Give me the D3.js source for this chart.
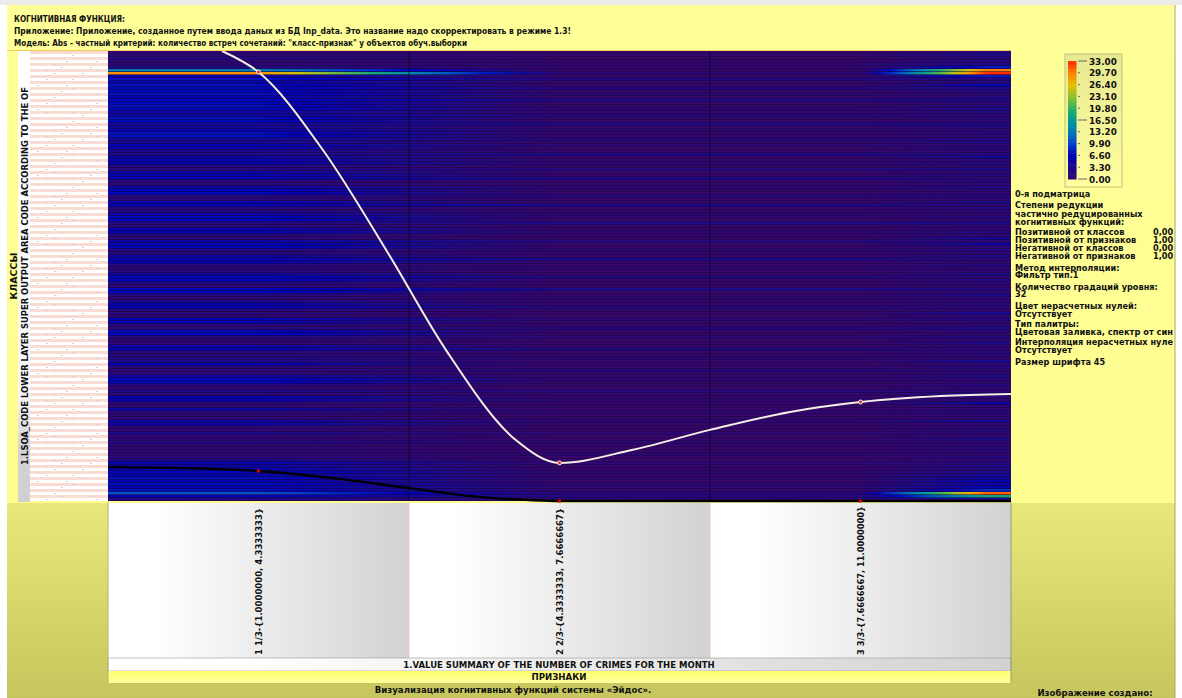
<!DOCTYPE html>
<html><head><meta charset="utf-8">
<script src="https://cdn.jsdelivr.net/npm/d3@7"></script>
<style>html,body{margin:0;padding:0;background:#fff}svg{display:block}text{font-family:"DejaVu Sans",sans-serif;font-weight:bold;fill:#111}</style>
</head><body><div id="c"></div>
<script>
const headerLines = ["КОГНИТИВНАЯ ФУНКЦИЯ:",
 "Приложение: Приложение, созданное путем ввода даных из БД Inp_data. Это название надо скорректировать в режиме 1.3!",
 "Модель: Abs - частный критерий: количество встреч сочетаний: \"класс-признак\" у объектов обуч.выборки"];
const headerWidths = [111,557,453];
const featureLabels = ["1 1/3-{1.0000000, 4.3333333}","2 2/3-{4.3333333, 7.6666667}","3 3/3-{7.6666667, 11.0000000}"];
const legendTicks = [0,3.3,6.6,9.9,13.2,16.5,19.8,23.1,26.4,29.7,33];
const legendColors = ["#36066a","#1a0a8c","#0000b8","#0040cc","#0078b8","#009a98","#2cb060","#90c030","#e4c000","#ff8400","#ff2a00"];
// value per class row (top to bottom) at feature 1, feature 2 and the right edge
const col1 = [1,1,2.5,1,1,2.5,14,29,6,7.5,
 6,7.5,7,7,7.5,6,7,7,7.5,7,
 5,5,7.5,7,4,4,6,7.5,7.5,4,
 4,6,6,3,3,5,6,6,2,2,
 5,6,6,1.5,1.5,5,7,7,2,1.5,
 6,6,2,2,5,7,7,1.5,1.5,6,
 6,1.5,1.5,5,7,7,2,1.5,5,6,
 6,1.5,1.5,1.5,5,7,7,2,1.5,7,
 7,1.5,1,3,6,6,1.5,1.5,1,6,
 6,1.5,1.5,7,7,1.5,1,1,5,6,
 1.5,1.5,3,3,6,1,1,1,5,7,
 7,1.5,1,3,1,6,6,1,1,5,
 1.5,1,1,5,5,1,1,3,1,1,
 2.5,1,1,1,1,1.5,3,6,5,6,
 7,6,7.5,6,7.5,6,7.5,11,6,2];
const col2 = [0,0.5,0,0,1,0,0,1,0,2,0,0,2,0,1,0,3,0,0,1,0,2,0,0,3,0,1,0,0,2,
 0,1,0,0,3,0,0,1,0,2,0,0,3,0,0,1,0,0,2,0,0,3,0,0,1,0,0,3,0,0,
 1,0,0,2,0,0,1,0,0,3,0,0,1,0,0,2,0,0,0,3,0,0,1,0,0,2,0,0,0,1,
 0,0,2,0,0,1,0,0,0,2,0,0,1,0,0,0,2,0,0,1,0,0,0,2,0,0,1,0,0,0,
 1,0,0,1,0,0,0,1,0,0,1,0,0,0,1,0,0,1,0,0,1,0,1,0,1,1,0,2,2,1];
const col3 = [2,3,2,2,3,8,30,33,8,2,2,6,3,2,1,2,3,1,2,3,2,1,2,1,3,2,1,2,1,2,
 3,1,2,1,2,4,1,2,1,3,1,2,1,2,1,3,1,1,2,1,3,1,2,1,1,2,1,3,1,1,
 2,1,4,1,5,1,2,1,3,1,1,2,1,1,3,1,2,1,1,2,1,3,1,1,2,1,1,4,1,2,
 1,1,3,1,1,2,1,3,1,1,2,1,1,4,1,2,1,1,3,1,1,2,1,1,3,1,1,5,1,1,
 2,1,1,4,1,1,2,1,1,3,1,1,2,1,1,2,1,2,3,2,3,4,5,6,5,6,9,31,18,3];
const whitePos = [.379,.5,.714,.93,1.123,1.355,1.5,1.74,2,2.266,2.5,2.767,3];
const whiteVal = [150,143,117,82.7,50.3,20.3,12.7,17,23.7,29.7,33,35,35.7];
const whiteNodes = [[.5,143],[1.5,12.7],[2.5,33]];
const blackPos = [0,.24,.5,.74,1,1.236,1.4,1.5,2.5,3];
const blackVal = [11.3,11,10,7.7,4.3,1.3,.3,0,0,0];
const blackNodes = [[.5,10],[1.5,0],[2.5,0]];
const specks = [7,16,24,31,36,42,52,60,66];
const sideLines = [["0-я подматрица",194],["Степени редукции",205],["частично редуцированных",213.5],["когнитивных функций:",222],
 ["Позитивной от классов",232],["Позитивной от признаков",240],["Негативной от классов",248],["Негативной от признаков",256],
 ["Метод интерполяции:",268],["Фильтр тип.1",275],["Количество градаций уровня:",287],["32",294],["Цвет нерасчетных нулей:",306],
 ["Отсутствует",313.5],["Тип палитры:",324],["Цветовая заливка, спектр от син",331.5],["Интерполяция нерасчетных нуле",342],
 ["Отсутствует",350],["Размер шрифта 45",362]];
const reductions = [["0,00",232],["1,00",240],["0,00",248],["1,00",256]];

const W=1182,H=698, L=108,R=1011,T=51,B=501;
const svg=d3.select("#c").append("svg").attr("width",W).attr("height",H);
const defs=svg.append("defs");
function grad(id,stops,vertical){const g=defs.append("linearGradient").attr("id",id);
 if(vertical)g.attr("x1",0).attr("x2",0).attr("y1",0).attr("y2",1);
 stops.forEach(([o,c])=>g.append("stop").attr("offset",o).attr("stop-color",c));}
grad("bgTop",[[0,"#ffff99"],[1,"#fdfd90"]],true);
grad("bgLow",[[0,"#e8e87a"],[1,"#c6c65e"]],true);
grad("band",[[0,"#fff"],[.15,"#fff"],[1,"#d2d2d2"]]);
grad("strip",[[0,"#fff"],[.75,"#f8f8f8"],[.88,"#d4d4d4"],[1,"#d0d0d0"]],true);
grad("yband",[[0,"#ffff70"],[1,"#ffffa0"]],true);
grad("legBg",[[0,"#e8e890"],[1,"#ffffa0"]],true);

svg.append("rect").attr("width",W).attr("height",5).attr("fill","#ececec");
svg.append("rect").attr("x",7).attr("y",5).attr("width",1168).attr("height",498).attr("fill","url(#bgTop)");
svg.append("rect").attr("x",7).attr("y",503).attr("width",1168).attr("height",195).attr("fill","url(#bgLow)");
svg.append("line").attr("x1",1175).attr("x2",1175).attr("y1",5).attr("y2",698).attr("stroke","#a8a860");
svg.append("rect").attr("x",7).attr("y",50).attr("width",1004).attr("height",1).attr("fill","#f8c860");

const hdr=[18.5,31,42.5];
headerLines.forEach((t,i)=>svg.append("text").attr("x",14).attr("y",hdr[i]+3).attr("font-size",8)
 .attr("textLength",headerWidths[i]).attr("lengthAdjust","spacingAndGlyphs").text(t));

// scales
const rows=d3.range(col1.length);
const y=d3.scaleBand().domain(rows).range([T,B]);
const yv=d3.scaleLinear().domain([0,150]).range([B,T]);
const x=d3.scaleLinear().domain([0,3]).range([L,R]);
const color=d3.scaleLinear().domain(legendTicks).range(legendColors).clamp(true);
const bands=d3.scaleBand().domain(featureLabels).range([L,R]);

// row labels strip
svg.append("rect").attr("x",18).attr("y",T).attr("width",12).attr("height",B-T+1).attr("fill","url(#strip)");
const lab=svg.append("g");
lab.selectAll("rect").data(rows).join("rect").attr("x",30).attr("width",L-30)
 .attr("y",d=>y(d)).attr("height",y.bandwidth()).attr("fill",d=>d%2?"#fff":"#f9dcd4");
lab.selectAll("g").data(rows).join("g").each(function(r){
 d3.select(this).selectAll("rect").data(specks.filter((s,i)=>(r*7+i*3)%11<2)).join("rect")
 .attr("x",s=>30+s).attr("y",y(r)+1).attr("width",2).attr("height",1).attr("fill","#d0d0d0");});

// heat rows
const pos=[0,.5,1.5,2.5,2.92,3];
svg.append("rect").attr("x",L).attr("y",T).attr("width",R-L).attr("height",B-T).attr("fill","#16063c");
const heat=svg.append("g");
rows.forEach(r=>{
 const v=[col1[r],col1[r],col2[r],col2[r],col3[r],col3[r]];
 const g=defs.append("linearGradient").attr("id","r"+r);
 pos.forEach((p,i)=>{ if(i==pos.length-1){g.append("stop").attr("offset",p/3).attr("stop-color",color(v[i]));return;}
  for(let k=0;k<8;k++){const t=k/8; g.append("stop").attr("offset",(p+(pos[i+1]-p)*t)/3).attr("stop-color",color(v[i]+(v[i+1]-v[i])*t));}});
});
heat.selectAll("rect").data(rows).join("rect").attr("x",L).attr("width",R-L)
 .attr("y",d=>y(d)).attr("height",y.bandwidth()-.55).attr("fill",d=>`url(#r${d})`);
// column separators
svg.selectAll(".sep").data([1,2]).join("line").attr("x1",d=>x(d)).attr("x2",d=>x(d)).attr("y1",T).attr("y2",B)
 .attr("stroke","#0c0428").attr("stroke-opacity",.8);

// curves
const line=d3.line().x(d=>x(d[0])).y(d=>yv(d[1])).curve(d3.curveMonotoneX);
svg.append("clipPath").attr("id","plot").append("rect").attr("x",L).attr("y",T).attr("width",R-L).attr("height",B-T+1);
svg.append("path").datum(whitePos.map((p,i)=>[p,whiteVal[i]])).attr("d",line).attr("fill","none").attr("stroke","#f4f0e4").attr("stroke-width",2).attr("clip-path","url(#plot)");
svg.append("path").datum(blackPos.map((p,i)=>[p,blackVal[i]])).attr("d",line).attr("fill","none").attr("stroke","#000").attr("stroke-width",2.4);
svg.selectAll(".wn").data(whiteNodes).join("circle").attr("cx",d=>x(d[0])).attr("cy",d=>yv(d[1])).attr("r",2).attr("fill","#e83030").attr("stroke","#f4e8e0").attr("stroke-width",1);
svg.selectAll(".bn").data(blackNodes).join("rect").attr("x",d=>x(d[0])-1.5).attr("y",d=>yv(d[1])-1.5).attr("width",3).attr("height",3).attr("fill","#e00000");

// feature bands
svg.append("g").selectAll("rect").data(featureLabels).join("rect").attr("x",d=>bands(d)).attr("y",B+2).attr("width",bands.bandwidth()).attr("height",155).attr("fill","url(#band)");
svg.selectAll(".bs").data([1,2]).join("line").attr("x1",d=>x(d)).attr("x2",d=>x(d)).attr("y1",B+2).attr("y2",658).attr("stroke","#f4c8c0");
svg.append("g").selectAll("text").data(featureLabels).join("text").attr("font-size",8.8)
 .attr("textLength",(d,i)=>i==2?149:147).attr("lengthAdjust","spacingAndGlyphs")
 .attr("transform",d=>`translate(${bands(d)+bands.bandwidth()/2+3.5},655) rotate(-90)`).text(d=>d);
svg.append("rect").attr("x",L).attr("y",658).attr("width",R-L).attr("height",13).attr("fill","url(#band)").attr("stroke","#999").attr("stroke-width",.6);
svg.append("rect").attr("x",L).attr("y",671).attr("width",R-L).attr("height",12).attr("fill","url(#yband)");
svg.append("line").attr("x1",L).attr("x2",L).attr("y1",502).attr("y2",683).attr("stroke","#b4b47a");
svg.append("line").attr("x1",R).attr("x2",R).attr("y1",502).attr("y2",683).attr("stroke","#9a9a70");
const center=(t,cx,cy,s)=>svg.append("text").attr("x",cx).attr("y",cy).attr("text-anchor","middle").attr("font-size",s).text(t);
center("1.VALUE SUMMARY OF THE NUMBER OF CRIMES FOR THE MONTH",559,668,8.5);
center("ПРИЗНАКИ",559,680,8.6);
center("Визуализация когнитивных функций системы «Эйдос».",513,693,8.6);
center("Изображение создано:",1095,696,8.6);

// left titles
svg.append("text").attr("font-size",9.5).attr("text-anchor","middle").attr("transform","translate(17,276) rotate(-90)").text("КЛАССЫ");
svg.append("text").attr("font-size",9.2).attr("textLength",378).attr("lengthAdjust","spacingAndGlyphs").attr("transform","translate(28,465) rotate(-90)").text("1.LSOA_CODE LOWER LAYER SUPER OUTPUT AREA CODE ACCORDING TO THE OF");

// legend
svg.append("rect").attr("x",1065).attr("y",54).attr("width",57).attr("height",133).attr("fill","url(#legBg)").attr("stroke","#c0c080");
const ly=d3.scaleLinear().domain([0,33]).range([179,61]);
const cells=d3.range(32);
svg.append("g").selectAll("rect").data(cells).join("rect").attr("x",1068).attr("width",8.5)
 .attr("y",d=>ly((d+1)*33/32)).attr("height",ly(0)-ly(33/32)+.5).attr("fill",d=>color((d+.5)*33/32));
const ax=svg.append("g");
ax.selectAll("line").data(legendTicks).join("line").attr("x1",1078).attr("x2",(d,i)=>i%5==0?1087:1080)
 .attr("y1",d=>ly(d)).attr("y2",d=>ly(d)).attr("stroke","#666");
ax.selectAll("text").data(legendTicks).join("text").attr("x",1089).attr("y",d=>ly(d)+3.5).attr("font-size",8.8).text(d=>d.toFixed(2));

// side text
const side=svg.append("g");
side.selectAll(".l").data(sideLines).join("text").attr("x",1015).attr("y",d=>d[1]+3).attr("font-size",8.2)
 .attr("textLength",d=>d[0].length>28?158:null).attr("lengthAdjust","spacingAndGlyphs").text(d=>d[0]);
side.selectAll(".v").data(reductions).join("text").attr("x",1153).attr("y",d=>d[1]+3).attr("font-size",8.2).text(d=>d[0]);
</script></body></html>
